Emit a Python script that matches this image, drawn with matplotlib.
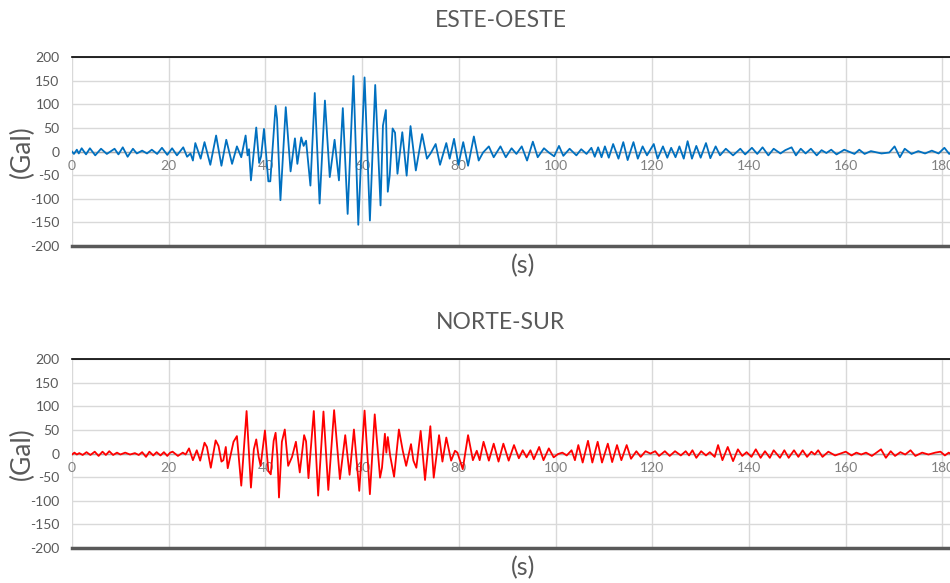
import matplotlib
matplotlib.use("Agg")
import matplotlib.pyplot as plt

plt.rcParams['font.family'] = ['Lato', 'DejaVu Sans']
plt.rcParams['axes.unicode_minus'] = False

# acelerograma este-oeste (tiempo s, aceleracion Gal), puntos de giro leidos
ew_t = [0, 0.4, 1, 1.4, 2, 2.9, 3.7, 4.8, 6, 7.2, 8.8, 9.6, 10.5, 11.5, 12.6, 13.4,
        14.5, 15.5, 16.5, 17.6, 18.6, 19.7, 20.7, 21.7, 23, 23.8, 24.5, 25, 25.5, 26.6,
        27.4, 28.6, 29.8, 30.9, 31.9, 33.1, 34.1, 35, 35.9, 36.3, 36.6, 37, 38.1, 38.7,
        39.1, 39.7, 40.6, 41, 42.1, 42.4, 43.1, 44.2, 45.2, 46.1, 46.6, 47.4, 47.9, 48.4,
        49.3, 50.2, 51.2, 52.3, 53.3, 54.3, 55.2, 56, 57, 58.2, 59.2, 60.5, 61.6, 62.7,
        63.8, 64.3, 64.9, 65.3, 65.7, 66.3, 66.8, 67.3, 68.3, 69.2, 70, 71.1, 72.4, 73.4,
        74.2, 75.2, 76.1, 77.4, 78.1, 79, 79.9, 80.9, 81.9, 83.1, 84.1, 85, 86.2, 87.2,
        88.6, 89.7, 90.9, 91.9, 93, 94.1, 95.3, 96.3, 97.6, 98.6, 99.7, 100.7, 101.6,
        102.9, 104.3, 105.3, 106.4, 107.4, 108.1, 108.8, 109.5, 110.2, 111, 111.9, 113,
        114, 114.9, 116.1, 117, 118, 118.9, 120.3, 121.1, 122.2, 123.1, 123.9, 124.8,
        125.6, 126.5, 127.3, 128.2, 129.1, 130, 131.1, 132, 133.1, 134, 135.2, 136.7,
        138.2, 139.2, 140.6, 141.7, 142.8, 144, 145.1, 146.5, 147.5, 148.8, 149.7, 150.7,
        151.7, 152.8, 154, 155, 156, 157, 158.1, 159.7, 161.8, 162.8, 163.9, 165.2, 167.4,
        169, 170.1, 171.2, 172.2, 173.6, 175, 176.4, 177.8, 179.2, 180.4, 181.4, 182.3, 183]
ew_a = [0, -5, 4, -4, 7, -6, 7, -8, 6, -5, 6, -6, 9, -11, 6, -4,
        2, -4, 4, -5, 8, -7, 7, -8, 9, -11, -4, -19, 18, -15,
        20, -28, 34, -30, 25, -26, 11, -12, 34, -8, 5, -61, 51, -24,
        -10, 48, -63, -63, 97, 70, -103, 94, -42, 28, -26, 30, 12, 23,
        -72, 124, -110, 108, -54, 25, -61, 92, -132, 160, -155, 157, -146, 141,
        -114, 55, 88, -85, -50, 49, 40, -47, 41, -51, 54, -40, 37, -15,
        -3, 16, -28, 18, -15, 27, -28, 20, -30, 32, -19, -2, 11, -12,
        11, -12, 7, -5, 11, -19, 21, -12, 7, -2, -10, 12, -9,
        6, -8, 5, -5, 8, -11, 9, -12, 11, -13, 16, -15,
        20, -18, 20, -15, 11, -8, 16, -15, 11, -13, 8, -12,
        11, -15, 22, -15, 12, -13, 18, -14, 11, -8, 6, -8,
        6, -6, 8, -5, 9, -8, 6, -4, 3, 9, -8, 6,
        -4, 6, -8, 3, -3, 4, -6, 4, -5, 4, -5, 1, -4,
        -2, 11, -12, 6, -5, 1, -4, 2, -4, 8, -5, 2, -1]

# acelerograma norte-sur
ns_t = [0, 0.5, 1, 1.5, 2.2, 3, 3.8, 4.7, 5.5, 6.3, 7, 7.7, 8.5, 9.3, 10, 11, 12, 13,
        13.8, 14.5, 15.3, 16, 16.8, 17.5, 18.3, 19, 19.7, 20.3, 20.8, 21.9, 22.9, 23.5,
        24.2, 25, 25.8, 26.5, 27.4, 27.9, 28.7, 29.7, 30.3, 30.9, 31.3, 31.8, 32.2, 32.9,
        33.4, 34.1, 35, 36.1, 37, 37.6, 38.1, 38.6, 39, 39.9, 40.6, 41.1, 41.7, 42.1,
        42.5, 42.8, 43.4, 44, 44.7, 45.5, 46.3, 47.1, 48, 48.4, 48.9, 50, 50.9, 52, 53,
        54.2, 55.4, 56.5, 57.4, 58.3, 59.4, 60.5, 61.6, 62.6, 63, 63.7, 64.1, 64.7, 65,
        65.3, 65.8, 66.6, 67.6, 68.4, 69.1, 70.1, 70.6, 71.2, 72.1, 73, 74.1, 74.8, 75.9,
        76.6, 77.4, 78.4, 79.2, 79.7, 80.8, 81.9, 82.9, 83.7, 84.3, 85.1, 86.2, 87.2,
        88.2, 89.2, 90.3, 91.4, 92.4, 93.2, 94, 94.8, 95.5, 96.6, 97.5, 98.6, 99.6,
        100.5, 101.4, 102.3, 103.3, 104, 104.7, 105.6, 106.7, 107.6, 108.7, 109.6,
        110.8, 111.7, 112.7, 113.6, 114.7, 115.6, 116.7, 117.6, 118.6, 119.6, 120.6,
        121.4, 122.6, 123.6, 124.7, 125.9, 126.9, 127.6, 128.3, 129.1, 130.1, 131.1,
        131.9, 132.9, 133.6, 134.5, 135.6, 136.7, 137.7, 138.6, 139.5, 140.5, 141.4,
        142.4, 143.3, 144.3, 145.1, 146.4, 147.3, 148.2, 149.3, 150.2, 151.1, 152,
        152.9, 153.6, 154.3, 155.2, 156.4, 157.8, 158.9, 160, 161.2, 162.2, 163.2,
        164.2, 165.4, 167.3, 168.3, 169.3, 170.2, 171.3, 172.3, 173.4, 174.4, 175.8,
        177.1, 178.5, 179.6, 180.5, 181.3, 182.2, 183]
ns_a = [-2, 2, -2, 1, -3, 3, -3, 4, -5, 4, -3, 5, -3, 2, -2, 2, -2, 1,
        -3, 3, -7, 4, -4, 3, -4, 3, -5, 2, 4, -5, 2, -2,
        11, -14, 7, -15, 23, 14, -30, 28, 16, -17, -14, 14, -31, 2,
        25, 37, -68, 90, -72, 9, 30, -7, -26, 49, -37, -44, 27, 44,
        -10, -93, 25, 51, -26, -7, 25, -40, 39, 26, -52, 90, -89, 89, -77,
        92, -54, 39, -45, 51, -79, 91, -86, 83, 35, -51, -30, 42, 2,
        35, -5, -49, 51, 6, -26, 20, -15, -30, 48, -56, 58, -51, 39,
        -17, 34, -15, 6, 2, -33, 39, -14, 6, -14, 25, -15, 21,
        -17, 21, -15, 18, -10, 7, -8, 7, -12, 14, -14, 11, -8,
        -1, 2, -4, 7, -14, 18, -19, 27, -19, 25, -19,
        21, -18, 18, -14, 18, -11, 5, -7, 5, 0, 5,
        -5, 5, -5, 5, -4, 5, -4, 7, -9, 5, -4,
        3, -7, 18, -14, 14, -16, 9, -5, 3, -7, 9,
        -9, 5, -9, 7, -9, 7, -9, 7, -7, 7, -7,
        4, -2, 7, -7, 4, -4, 0, 4, -4, 2, -2,
        2, -5, 9, -9, 5, -5, 3, -2, 7, -5, 2,
        -2, 2, 4, -4, 2, -4, 0]

panels = [("ESTE-OESTE", ew_t, ew_a, "#0070C0"),
          ("NORTE-SUR", ns_t, ns_a, "#FF0000")]

fig = plt.figure(figsize=(9.5, 5.83), dpi=100)
axes_pos = [[0.0758, 0.578, 0.93, 0.324], [0.0758, 0.060, 0.93, 0.324]]
title_y = [0.965, 0.447]

for (title, t, a, col), pos, ty in zip(panels, axes_pos, title_y):
    ax = fig.add_axes(pos)
    ax.plot(t, a, color=col, lw=1.3, zorder=3)
    ax.set_xlim(0, 182.7)
    ax.set_ylim(-200, 200)
    ax.set_xticks(range(0, 181, 20))
    ax.set_yticks(range(-200, 201, 50))
    ax.grid(True, color="#D9D9D9", lw=1.0)
    ax.set_axisbelow(True)
    for s in ["left", "right"]:
        ax.spines[s].set_visible(False)
    ax.spines["top"].set_color("black")
    ax.spines["top"].set_linewidth(1.2)
    # eje horizontal cruzando en cero
    ax.spines["bottom"].set_position(("data", 0))
    ax.spines["bottom"].set_color("#A6A6A6")
    ax.spines["bottom"].set_linewidth(1.0)
    ax.axhline(-200, color="#595959", lw=2.5, clip_on=False, zorder=4)
    ax.tick_params(axis="x", length=0, pad=6, labelsize=10, labelcolor="#808080")
    ax.tick_params(axis="y", length=0, pad=9, labelsize=10, labelcolor="#595959")
    fig.text(0.024, pos[1] + pos[3] / 2, "(Gal)", rotation=90, ha="center",
             va="center", fontsize=19, color="#595959")
    ax.text(0.51, -0.04, "(s)", transform=ax.transAxes, ha="center", va="top",
            fontsize=18, color="#595959")
    fig.text(0.527, ty, title, ha="center", va="center", fontsize=16.5, color="#595959")

fig.savefig("out.png", dpi=100)
